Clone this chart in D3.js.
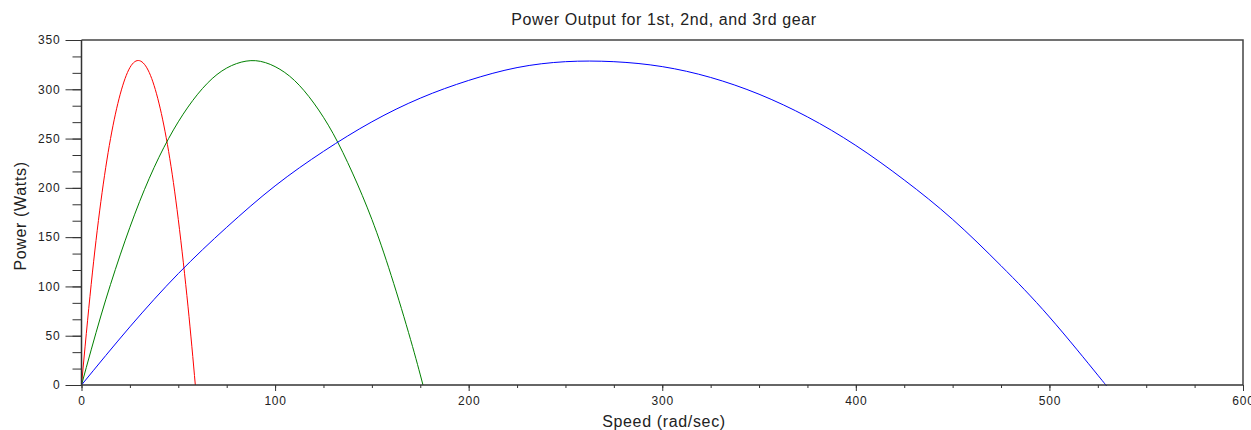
<!DOCTYPE html>
<html>
<head>
<meta charset="utf-8">
<script src="https://cdn.jsdelivr.net/npm/d3@7"></script>
<style>
  body { margin: 0; background: #fff; }
  svg { display: block; font-family: "Liberation Sans", Arial, sans-serif; }
</style>
</head>
<body>
<div id="chart"></div>
<script>
// Valores (velocidad en rad/s, potencia en W)
const firstSpeed  = [0, 5, 10, 15, 20, 25, 30, 35, 40, 45, 50, 55, 58.8];
const firstPower  = [0, 102, 186, 250, 295, 322, 329, 317, 286, 237, 168, 80, 0];

const secondSpeed = [0, 10, 20, 30, 40, 50, 60, 70, 80, 90, 100, 110, 120, 130, 140, 150, 160, 170, 176.4];
const secondPower = [0, 70, 132, 186, 231, 267, 295, 315, 326, 329, 323, 309, 286, 255, 215, 168, 111, 46, 0];

const thirdSpeed  = [0, 25, 50, 75, 100, 125, 150, 175, 200, 225, 250, 275, 300, 325, 350, 375, 400, 425, 450, 475, 500, 525, 529.2];
const thirdPower  = [0, 59, 113, 160, 202, 237, 267, 291, 309, 322, 328, 328, 323, 312, 295, 272, 243, 208, 168, 121, 69, 10, 0];

const xTicks = [0, 100, 200, 300, 400, 500, 600];
const yTicks = [0, 50, 100, 150, 200, 250, 300, 350];

const width = 1251;
const height = 430;
const mLeft = 81.5, mRight = 1243, mTop = 40, mBottom = 385;

const x = d3.scaleLinear().domain([0, 600]).range([mLeft, mRight]);
const y = d3.scaleLinear().domain([0, 350]).range([mBottom, mTop]);

const svg = d3.select("#chart").append("svg")
    .attr("width", width)
    .attr("height", height);

// Curvas de las tres marchas
const series = [
    { speed: firstSpeed,  power: firstPower,  color: "#ff0000" },
    { speed: secondSpeed, power: secondPower, color: "#008000" },
    { speed: thirdSpeed,  power: thirdPower,  color: "#0000ff" }
];

const line = d3.line()
    .x(d => x(d[0]))
    .y(d => y(d[1]))
    .curve(d3.curveNatural);

svg.append("g")
    .selectAll("path")
    .data(series)
    .join("path")
    .attr("d", s => line(s.speed.map((v, i) => [v, s.power[i]])))
    .attr("fill", "none")
    .attr("stroke", s => s.color)
    .attr("stroke-width", 1);

// Marco (arriba y derecha)
svg.append("path")
    .attr("d", `M${mLeft},${mTop}H${mRight}V${mBottom}`)
    .attr("fill", "none")
    .attr("stroke", "#444")
    .attr("stroke-width", 1.5);

// Eje X: marcas menores y mayores en grupos separados
svg.append("g")
    .attr("transform", `translate(0,${mBottom})`)
    .call(d3.axisBottom(x).tickValues(d3.range(0, 601, 25)).tickSize(3).tickFormat(""))
    .call(g => g.select(".domain").remove())
    .call(g => g.selectAll("line").attr("stroke", "#333"));

svg.append("g")
    .attr("transform", `translate(0,${mBottom})`)
    .call(d3.axisBottom(x).tickValues(xTicks).tickSize(6).tickPadding(5))
    .call(g => g.select(".domain").attr("stroke", "#333").attr("stroke-width", 1.5).attr("d", `M${mLeft},0H${mRight}`))
    .call(g => g.selectAll("line").attr("stroke", "#333"))
    .call(g => g.selectAll("text").attr("font-size", 12).attr("letter-spacing", 0.8).attr("fill", "#222").attr("font-family", null));

// Eje Y
svg.append("g")
    .attr("transform", `translate(${mLeft},0)`)
    .call(d3.axisLeft(y).tickValues(d3.range(0, 351, 50 / 3)).tickSize(9).tickFormat(""))
    .call(g => g.select(".domain").remove())
    .call(g => g.selectAll("line").attr("stroke", "#333"));

svg.append("g")
    .attr("transform", `translate(${mLeft},0)`)
    .call(d3.axisLeft(y).tickValues(yTicks).tickSize(16).tickPadding(5))
    .call(g => g.select(".domain").attr("stroke", "#333").attr("stroke-width", 1.5).attr("d", `M0,${mBottom}V${mTop}`))
    .call(g => g.selectAll("line").attr("stroke", "#333"))
    .call(g => g.selectAll("text").attr("font-size", 12).attr("letter-spacing", 0.8).attr("fill", "#222").attr("font-family", null));

// Títulos
svg.append("text")
    .attr("x", 664)
    .attr("y", 25)
    .attr("text-anchor", "middle")
    .style("font-size", "16px")
    .attr("letter-spacing", 0.6)
    .attr("fill", "#222")
    .text("Power Output for 1st, 2nd, and 3rd gear");

svg.append("text")
    .attr("x", 664)
    .attr("y", 426.5)
    .attr("text-anchor", "middle")
    .style("font-size", "16px")
    .attr("letter-spacing", 0.65)
    .attr("fill", "#222")
    .text("Speed (rad/sec)");

svg.append("text")
    .attr("transform", "translate(26,216) rotate(-90)")
    .attr("text-anchor", "middle")
    .style("font-size", "16px")
    .attr("letter-spacing", 0.65)
    .attr("fill", "#222")
    .text("Power (Watts)");
</script>
</body>
</html>
